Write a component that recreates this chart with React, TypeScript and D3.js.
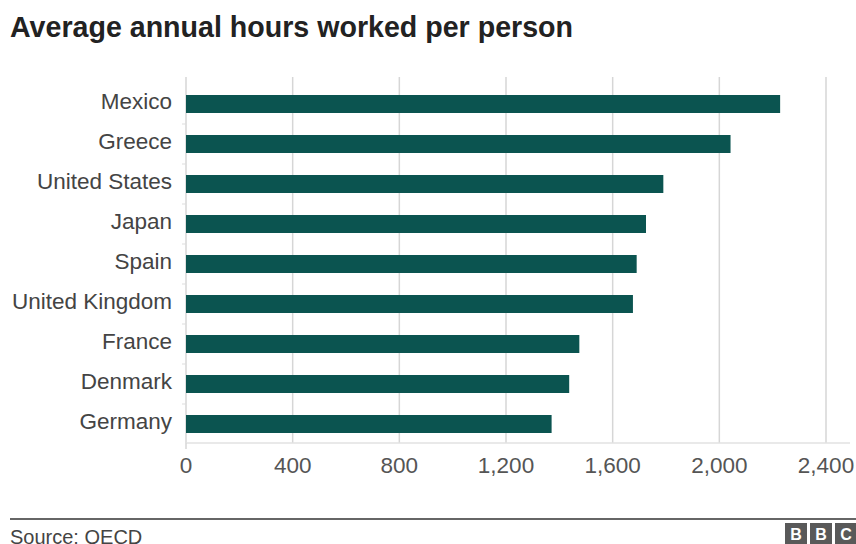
import React from "react";
import * as d3 from "d3";

const countries = ["Mexico", "Greece", "United States", "Japan", "Spain", "United Kingdom", "France", "Denmark", "Germany"];
const hours = [2228, 2042, 1790, 1725, 1690, 1676, 1475, 1437, 1371];
const xTicks = [0, 400, 800, 1200, 1600, 2000, 2400];
const title = "Average annual hours worked per person";
const source = "Source: OECD";

const W = 856;
const H = 544;
const FONT = "'Liberation Sans', Arial, Helvetica, sans-serif";

export default function App() {
  const x = d3.scaleLinear().domain([0, 2400]).range([186, 826]);
  const y = d3.scaleBand<string>().domain(countries).range([84, 444]).paddingInner(0.55).paddingOuter(0.275);
  const fmt = d3.format(",");
  const axisY = 443;
  const step = y.step();
  return (
    <svg width={W} height={H} style={{ position: "absolute", left: 0, top: 0, background: "#fff" }}>
      <text x={10} y={37} fontFamily={FONT} fontWeight="bold" fontSize={28.6} fill="#222">{title}</text>
      {xTicks.map((t) => (
        <line key={"g" + t} x1={x(t)} x2={x(t)} y1={77} y2={axisY} stroke="#d6d6d6" strokeWidth={1.5} />
      ))}
      <line x1={186} x2={850} y1={axisY} y2={axisY} stroke="#e2e2e2" strokeWidth={1.5} />
      <line x1={x(0)} x2={x(0)} y1={axisY} y2={axisY + 6} stroke="#d6d6d6" strokeWidth={1.5} />
      {countries.slice(0, -1).map((c) => (
        <line key={"t" + c} x1={182} x2={186} y1={(y(c) as number) + y.bandwidth() + (step - y.bandwidth()) / 2} y2={(y(c) as number) + y.bandwidth() + (step - y.bandwidth()) / 2} stroke="#ddd" strokeWidth={1} />
      ))}
      {countries.map((c, i) => (
        <rect key={c} x={x(0)} y={y(c)} width={x(hours[i]) - x(0)} height={y.bandwidth()} fill="#0b5450" />
      ))}
      {countries.map((c) => (
        <text key={"l" + c} x={172} y={(y(c) as number) + y.bandwidth() / 2} dy="0.22em" textAnchor="end" fontFamily={FONT} fontSize={22.5} fill="#444">{c}</text>
      ))}
      {xTicks.map((t) => (
        <text key={"x" + t} x={x(t)} y={465} dy="0.35em" textAnchor="middle" fontFamily={FONT} fontSize={22.5} fill="#555">{fmt(t)}</text>
      ))}
      <line x1={10} x2={856} y1={519} y2={519} stroke="#666" strokeWidth={2} />
      <text x={10} y={544} fontFamily={FONT} fontSize={20} fill="#444">{source}</text>
      {["B", "B", "C"].map((l, i) => (
        <g key={"b" + i}>
          <rect x={785 + i * 25} y={523} width={22} height={22} fill="#595959" />
          <text x={785 + i * 25 + 11} y={540} textAnchor="middle" fontFamily={FONT} fontWeight="bold" fontSize={16} fill="#fff">{l}</text>
        </g>
      ))}
    </svg>
  );
}
